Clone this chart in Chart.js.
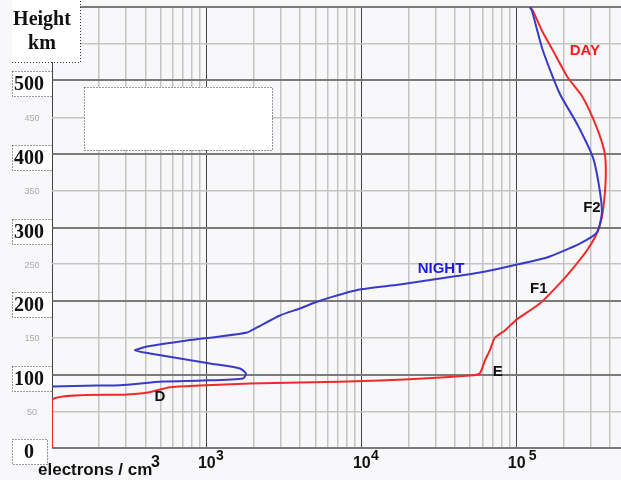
<!DOCTYPE html>
<html>
<head>
<meta charset="utf-8">
<script src="https://cdn.jsdelivr.net/npm/chart.js@4.4.1/dist/chart.umd.min.js"></script>
<style>
  html, body { margin: 0; padding: 0; background: #f8f8fb; }
</style>
</head>
<body>
<canvas id="iono" width="621" height="480"></canvas>
<script>
// electron density (per cm3) against height (km)
const dayN = [100, 100, 305, 416, 577, 901, 1894, 3981, 13060, 49770, 57700, 62200, 66900, 72100, 83700,
  100000, 140700, 189300, 236600, 283000, 328000, 353400, 369700, 375000, 369700, 328000, 266600,
  213300, 170700, 145000, 126900, 121300];
const dayH = [0, 66, 72.8, 75.5, 82.7, 85, 87.8, 89, 91.8, 98.6, 101.8, 119, 132.7, 150, 160,
  175, 196.6, 224, 247.6, 268.7, 291.8, 313.6, 346.3, 373.5, 400.7, 436, 477,
  504, 541, 568, 595, 600];

const nightN = [100, 195, 275, 520, 942, 1708, 1785, 1633, 1046, 670, 429, 343, 410, 743, 1213, 1812,
  2103, 2958, 3981, 4975, 6500, 9705, 17580, 35300, 57700, 94200, 156300, 254900, 328000, 353400,
  343000, 310000, 243800, 189300, 147200, 125000, 121300];
const nightH = [83.7, 85, 85.5, 90.5, 91.8, 94.6, 101.4, 108.2, 115, 121.8, 128.6, 132.7, 138, 146.3, 151.7, 157.1,
  164, 180.3, 189.8, 198, 206, 215.6, 222.4, 232, 238.8, 248.3, 259.2, 278.2, 293, 319,
  350, 395, 441.5, 482, 540.8, 595.2, 600];

const majorHeights = [0, 100, 200, 300, 400, 500];
const minorHeights = [50, 150, 250, 350, 450];
const decades = [1000, 10000, 100000];
const decadeExp = ["3", "4", "5"];

const noteText = ["DAY", "NIGHT", "F2", "F1", "E", "D"];
const noteN = [275000, 32400, 305000, 138700, 75400, 498];
const noteH = [541, 244, 327, 217, 103, 69];
const noteColor = ["#ff1a1a", "#1a1ae6", "#111", "#111", "#111", "#111"];

function toPoints(xs, ys) {
  return xs.map((v, i) => ({ x: v, y: ys[i] }));
}

// grid at 1..9 x 10^n
const gridValues = [];
[100, 1000, 10000, 100000].forEach(d => {
  for (let k = 1; k <= 9; k++) {
    if (d * k <= 470000) gridValues.push(d * k);
  }
});

function isDecade(v) {
  return Math.abs(Math.log10(v) - Math.round(Math.log10(v))) < 1e-9;
}

const decor = {
  id: "decor",
  beforeDraw(chart) {
    const ctx = chart.ctx;
    ctx.save();
    ctx.fillStyle = "#f8f8fb";
    ctx.fillRect(0, 0, chart.width, chart.height);
    ctx.restore();
  },
  afterDraw(chart) {
    const { ctx, scales: { x, y } } = chart;
    ctx.save();

    // empty box
    ctx.fillStyle = "#fff";
    ctx.fillRect(84, 87, 188, 63);
    ctx.setLineDash([1, 2]);
    ctx.strokeStyle = "#333";
    ctx.lineWidth = 1;
    ctx.strokeRect(84.5, 87.5, 188, 63);

    // heading box
    ctx.fillStyle = "#fff";
    ctx.fillRect(12, 0, 68, 62);
    ctx.beginPath();
    ctx.moveTo(12, 62.5); ctx.lineTo(80.5, 62.5); ctx.lineTo(80.5, 0);
    ctx.stroke();
    ctx.setLineDash([]);
    ctx.fillStyle = "#111";
    ctx.font = "bold 20px 'Liberation Serif'";
    ctx.textAlign = "center";
    ctx.textBaseline = "middle";
    ctx.fillText("Height", 42, 20);
    ctx.fillText("km", 42, 44);

    // height labels
    majorHeights.forEach(v => {
      const py = Math.round(y.getPixelForValue(v)) + 4;
      const right = v === 0 ? 47 : 52;
      ctx.fillStyle = "#fff";
      ctx.fillRect(12, py - 13, right - 12, 26);
      ctx.setLineDash([1, 2]);
      ctx.strokeStyle = "#333";
      ctx.strokeRect(12.5, py - 12.5, right - 12, 25);
      ctx.setLineDash([]);
      ctx.fillStyle = "#111";
      ctx.font = "bold 20px 'Liberation Serif'";
      ctx.fillText(String(v), 29, py + 1);
    });
    ctx.font = "9px 'Liberation Sans'";
    ctx.fillStyle = "#aaa";
    minorHeights.forEach(v => {
      ctx.fillText(String(v), 32, y.getPixelForValue(v) + 1);
    });

    // density labels
    ctx.fillStyle = "#111";
    ctx.textAlign = "left";
    ctx.textBaseline = "alphabetic";
    decades.forEach((d, i) => {
      const px = x.getPixelForValue(d);
      ctx.font = "bold 16px 'Liberation Sans'";
      ctx.fillText("10", px - 9, 468);
      ctx.font = "bold 14px 'Liberation Sans'";
      ctx.fillText(decadeExp[i], px + 9 + (i === 2 ? 3 : 0), 460);
    });
    ctx.font = "bold 17px 'Liberation Sans'";
    ctx.fillText("electrons / cm", 38, 475);
    ctx.font = "bold 16px 'Liberation Sans'";
    ctx.fillText("3", 151, 467);

    // layer notes
    ctx.textAlign = "center";
    ctx.textBaseline = "middle";
    ctx.font = "bold 15px 'Liberation Sans'";
    noteText.forEach((t, i) => {
      ctx.fillStyle = noteColor[i];
      ctx.fillText(t, x.getPixelForValue(noteN[i]), y.getPixelForValue(noteH[i]));
    });

    ctx.restore();
  }
};

new Chart(document.getElementById("iono"), {
  type: "scatter",
  data: {
    datasets: [
      {
        label: "Night",
        data: toPoints(nightN, nightH),
        showLine: true,
        borderColor: "#3a3ac8",
        borderWidth: 2,
        pointRadius: 0,
        tension: 0.2
      },
      {
        label: "Day",
        data: toPoints(dayN, dayH),
        showLine: true,
        borderColor: "#f02a2a",
        borderWidth: 2,
        pointRadius: 0,
        tension: 0.2
      }
    ]
  },
  options: {
    responsive: false,
    animation: false,
    layout: { padding: { left: 52, top: 7, right: 0, bottom: 32 } },
    plugins: { legend: { display: false }, tooltip: { enabled: false } },
    scales: {
      x: {
        type: "logarithmic",
        min: 100,
        max: 470000,
        afterBuildTicks: s => { s.ticks = gridValues.map(v => ({ value: v })); },
        ticks: { display: false },
        border: { display: false },
        grid: {
          drawTicks: false,
          color: c => isDecade(c.tick.value) ? "#444" : "#c4c4c4",
          lineWidth: c => isDecade(c.tick.value) ? 1 : 1.5
        }
      },
      y: {
        min: 0,
        max: 600,
        ticks: { display: false, stepSize: 50 },
        border: { display: false },
        grid: {
          drawTicks: false,
          color: c => c.tick.value % 100 === 0 ? "#7a7a7a" : "#c4c4c4",
          lineWidth: c => c.tick.value % 100 === 0 ? 2 : 1.5
        }
      }
    }
  },
  plugins: [decor]
});
</script>
</body>
</html>
